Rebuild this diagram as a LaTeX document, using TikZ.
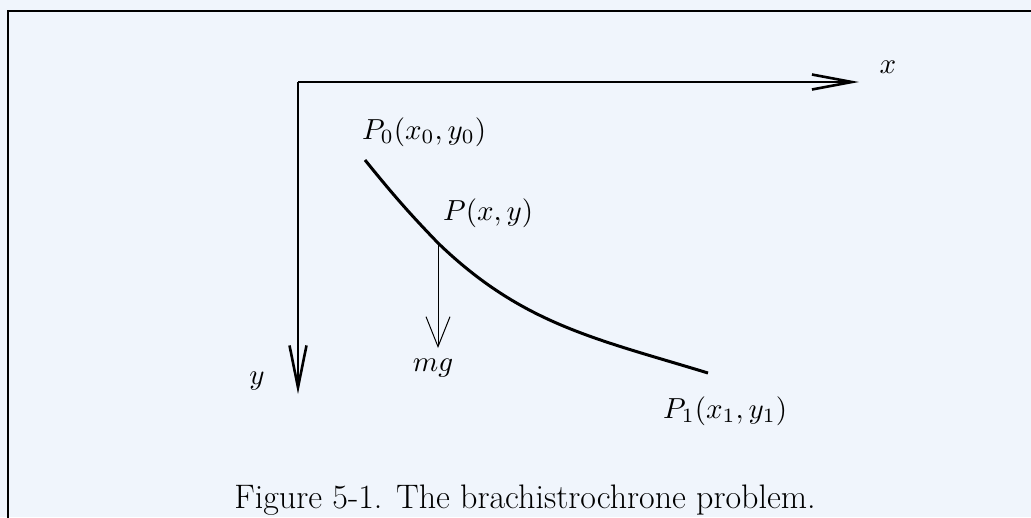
\documentclass[tikz,border=0pt]{standalone}
\usetikzlibrary{arrows.meta}
\definecolor{bgc}{RGB}{240,245,252}
\newcommand\mylab[1]{\scalebox{2.9}{#1}}
\begin{document}
\begin{tikzpicture}[x=1pt,y=-1pt,
  lbl/.style={inner sep=0pt},
  axis/.style={line width=2.6pt},
  curve/.style={line width=3pt},
  thin/.style={line width=1pt}]
\useasboundingbox (0,0) rectangle (1031,517);
\fill[bgc] (0,0) rectangle (1031,517);
\draw[line width=2.2pt] (8,520) -- (8,11) -- (1035,11);
% axes
\coordinate (O) at (298,82);
\coordinate (xe) at (859,82);
\coordinate (ye) at (298,394);
\draw[axis,-{Straight Barb[length=40pt,width=15pt,line width=2.6pt]}] (O) -- (xe);
\draw[axis,-{Straight Barb[length=42pt,width=17pt,line width=2.6pt]}] (O) -- (ye);
\node[lbl] (xl) at (888,67) {\mylab{$x$}};
\node[lbl] (yl) at (257,381) {\mylab{$y$}};
% curve
\coordinate (P0) at (365,160);
\coordinate (P) at (438,243);
\coordinate (P1) at (708,373);
\draw[curve,line cap=butt] (P0) to[out=-51,in=134] (P) to[out=-44,in=163] (P1);
% force
\coordinate (mge) at (438,348);
\draw[thin,-{Straight Barb[length=30pt,width=24pt,line width=1pt]}] (P) -- (mge);
\node[lbl] (mg) at (433,368) {\mylab{$mg$}};
% labels
\node[lbl,anchor=base west] (P0l) at (362,139) {\mylab{$P_0(x_0,y_0)$}};
\node[lbl,anchor=base west] (Pl) at (443,220) {\mylab{$P(x,y)$}};
\node[lbl,anchor=base west] (P1l) at (663,418) {\mylab{$P_1(x_1,y_1)$}};
\node[anchor=base,inner sep=0pt,font=\fontsize{34}{40}\selectfont] (cap) at (525,508) {Figure 5-1. The brachistrochrone problem.};
\end{tikzpicture}
\end{document}
